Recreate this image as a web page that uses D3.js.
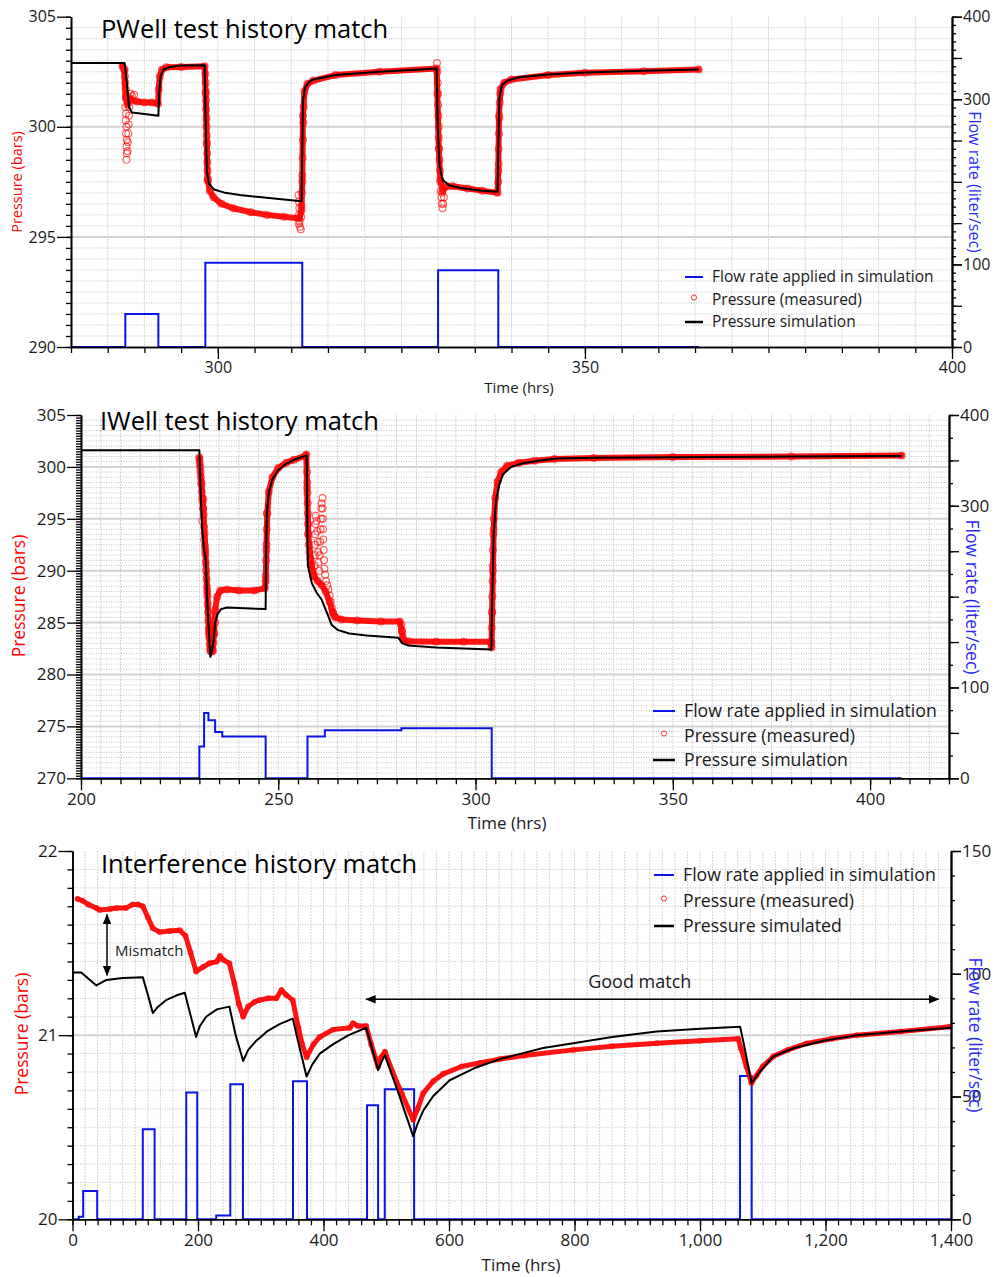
<!DOCTYPE html>
<html>
<head>
<meta charset="utf-8">
<script src="https://cdn.jsdelivr.net/npm/d3@7"></script>
<style>
  body { margin: 0; background: #fff; }
  svg { display: block; }
</style>
</head>
<body>
<script>
// ---------- PWell test (time hrs, pressure bars / flow l/s) ----------
const pwellSim = [
  [280, 302.9], [287.3, 302.9], [287.6, 302.0], [287.9, 300.9], [288.3, 300.65], [290, 300.58],
  [291.9, 300.5], [292.0, 301.5], [292.2, 302.3], [292.6, 302.6], [293.5, 302.72], [295, 302.78],
  [298.2, 302.8], [298.35, 300], [298.5, 298.0], [298.8, 297.4], [299.5, 297.15], [301, 297.0],
  [303, 296.9], [306, 296.8], [309, 296.7], [311.4, 296.62], [311.5, 299], [311.6, 301.2],
  [311.9, 301.8], [312.5, 302.05], [313, 302.15], [316, 302.35], [322, 302.5], [329.8, 302.65],
  [329.95, 300], [330.2, 298.2], [330.6, 297.6], [331.5, 297.35], [333, 297.22], [336, 297.1],
  [338.1, 297.05], [338.2, 299], [338.35, 301.3], [338.7, 301.9], [339.5, 302.1], [341, 302.25],
  [345, 302.38], [350, 302.47], [358, 302.54], [365.5, 302.6]
];
const pwellMeasured = [
  [287.0, 302.75], [287.25, 302.6], [287.45, 301.3], [287.7, 301.0], [288.0, 301.3], [288.4, 301.2],
  [289, 301.15], [290, 301.1], [291, 301.1], [291.85, 301.05], [291.95, 301.7], [292.1, 302.3],
  [292.4, 302.6], [293, 302.7], [295, 302.72], [298.2, 302.75], [298.35, 301.5], [298.5, 299.3],
  [298.6, 297.6], [298.9, 297.1], [299.4, 296.8], [300.5, 296.5], [302.1, 296.3], [304.5, 296.12],
  [306.7, 296.0], [309, 295.92], [311.1, 295.84], [311.4, 296.2], [311.5, 297.5], [311.6, 300.5],
  [311.8, 301.6], [312.2, 301.95], [313, 302.1], [316, 302.35], [322, 302.5], [329.8, 302.65],
  [329.9, 301.5], [330.1, 299], [330.3, 297.6], [330.6, 297.1], [331.2, 297.3], [332, 297.3],
  [334, 297.2], [336, 297.1], [338.1, 297.0], [338.2, 298], [338.3, 300.5], [338.5, 301.7],
  [339, 302.0], [340, 302.15], [345, 302.35], [350, 302.45], [358, 302.52], [365.5, 302.6]
];
const pwellMeasuredScatter = [
  [287.3, 302.6], [287.35, 302.3], [287.4, 302.0], [287.45, 301.7], [287.5, 301.4], [287.4, 300.9],
  [287.5, 300.6], [287.45, 300.3], [287.55, 300.0], [287.5, 299.7], [287.6, 299.4], [287.55, 299.1],
  [287.6, 298.8], [287.55, 298.5], [287.7, 298.9], [287.75, 299.3], [287.8, 299.7], [287.85, 300.1],
  [287.9, 300.5], [287.95, 300.9], [288.1, 301.5], [288.3, 301.4], [288.6, 301.45],
  [298.3, 302.4], [298.35, 302.0], [298.35, 301.6], [298.4, 301.2], [298.4, 300.8], [298.45, 300.4],
  [298.45, 300.0], [298.5, 299.6], [298.5, 299.2], [298.55, 298.8], [298.55, 298.4], [298.6, 298.0],
  [298.65, 297.6],
  [311.0, 296.9], [311.05, 296.6], [311.1, 296.3], [311.05, 296.0], [311.15, 295.7], [311.2, 295.45],
  [311.3, 295.35], [311.0, 295.6], [311.35, 295.9], [311.4, 296.4], [311.45, 297.0], [311.5, 297.8],
  [311.55, 298.6], [311.6, 299.4], [311.65, 300.2], [311.7, 300.9],
  [329.85, 302.9], [329.9, 302.5], [329.95, 302.0], [330.0, 301.5], [330.0, 301.0], [330.05, 300.5],
  [330.1, 300.0], [330.1, 299.5], [330.15, 299.0], [330.2, 298.5], [330.25, 298.0], [330.3, 297.5],
  [330.35, 297.1], [330.45, 296.8], [330.5, 296.5], [330.6, 296.3], [330.7, 296.5], [330.8, 296.8],
  [330.55, 297.0],
  [338.2, 297.5], [338.25, 298.3], [338.25, 299.0], [338.3, 299.7], [338.35, 300.4], [338.4, 301.1],
  [338.45, 301.5]
];
const pwellFlow = [
  [280, 0], [287.4, 40], [291.9, 0], [298.3, 102], [311.5, 0], [330, 93], [338.2, 0], [365.5, 0]
];
const pwellTimeTicks = [300, 350, 400];
const pwellPressureTicks = [290, 295, 300, 305];
const pwellFlowTicks = [0, 100, 300, 400];

// ---------- IWell test ----------
const iwellSim = [
  [200, 301.6], [230.0, 301.6], [230.3, 298], [230.7, 294], [231.2, 292], [231.6, 291.2],
  [232.0, 287], [232.5, 283.5], [232.8, 281.7], [233.2, 282.3], [233.6, 283.2], [234.0, 285.0],
  [234.6, 285.8], [235.5, 286.3], [237, 286.45], [240, 286.4], [246.8, 286.3], [246.9, 291],
  [247.1, 295.5], [247.6, 297.5], [248.5, 298.8], [250, 299.7], [252, 300.3], [254, 300.7],
  [257.2, 301.1], [257.35, 295], [257.5, 290.5], [258.5, 288.8], [259.7, 287.9], [261, 287.2],
  [262.5, 285.8], [263.5, 284.8], [265, 284.3], [268, 283.95], [272.4, 283.75], [276, 283.65],
  [280.4, 283.55], [281.5, 283.0], [283, 282.8], [290, 282.6], [297, 282.5], [304.0, 282.4],
  [304.2, 287], [304.6, 293.5], [305.2, 296.8], [306, 298.3], [307, 299.3], [309, 300.0],
  [312, 300.35], [316, 300.6], [320.5, 300.8], [330, 300.88], [350, 300.93], [380, 301.0],
  [408, 301.05]
];
const iwellMeasured = [
  [230.0, 300.8], [230.5, 298.5], [231.0, 296], [231.5, 292], [232.0, 288], [232.4, 284],
  [232.8, 282.3], [233.3, 282.3], [233.7, 283.8], [234.0, 286.2], [234.5, 287.5], [235.3, 288.1],
  [237, 288.2], [240, 288.1], [244, 288.1], [246.6, 288.3], [246.8, 289], [247.0, 292],
  [247.2, 295.5], [247.6, 297.6], [248.5, 299.0], [250, 299.9], [252, 300.4], [254, 300.7],
  [256.8, 301.05], [257.1, 301.2], [257.3, 298], [257.6, 293.5], [258.2, 291], [259, 289.5],
  [260, 289], [261, 288.6], [262, 288], [263, 287], [263.8, 286], [264.5, 285.5], [266, 285.3],
  [270, 285.2], [276, 285.1], [280.8, 285.1], [281.3, 284.2], [281.7, 283.3], [283, 283.2],
  [290, 283.15], [297, 283.15], [303.9, 283.15], [304.05, 282.6], [304.2, 286], [304.4, 290],
  [304.6, 294], [305.0, 297], [305.6, 298.6], [306.5, 299.5], [308, 300.1], [311, 300.4],
  [315, 300.6], [320, 300.75], [330, 300.85], [350, 300.95], [380, 301.0], [408, 301.1]
];
const iwellMeasuredScatter = [
  [230.0, 300.9], [230.1, 300.4], [230.2, 300.0], [230.3, 299.5], [230.4, 299.0], [230.5, 298.3],
  [230.6, 297.6], [230.7, 297.0], [230.8, 296.6], [230.9, 296.0], [231.0, 296.9], [231.1, 295.4],
  [230.7, 294.8], [231.2, 294.2], [231.3, 293.6], [231.2, 293.0], [231.4, 292.4], [231.5, 291.6],
  [231.6, 290.8], [231.7, 290.0], [231.8, 289.2], [231.9, 288.4], [232.0, 287.6], [232.1, 286.8],
  [232.2, 286.0], [232.3, 285.2], [232.4, 284.4], [232.5, 283.6], [232.6, 282.9], [232.8, 282.4],
  [233.0, 282.2], [233.2, 282.5], [233.4, 282.3], [233.6, 283.0], [233.8, 284.0], [234.0, 285.0],
  [246.8, 289.5], [246.9, 291.0], [247.0, 292.5], [247.05, 294.0], [247.1, 295.5],
  [257.3, 299.5], [257.35, 298.5], [257.4, 297.5], [257.45, 296.5], [257.5, 295.5], [257.55, 294.5],
  [257.6, 293.5], [257.7, 292.5], [257.9, 291.8], [258.1, 291.2], [258.3, 290.6], [258.6, 290.0],
  [258.9, 289.5], [259.2, 290.5], [259.3, 291.5], [259.35, 292.5], [259.4, 293.5], [259.45, 294.5],
  [259.5, 295.3], [259.7, 294.8], [259.9, 293.8], [260.0, 292.8], [260.1, 291.8], [260.2, 290.8],
  [260.4, 290.0], [260.5, 291.5], [260.6, 292.8], [260.7, 294.0], [260.8, 295.0], [260.9, 296.0],
  [261.0, 296.5], [261.2, 297.0], [261.25, 296.0], [261.3, 295.0], [261.35, 294.0], [261.4, 293.0],
  [261.5, 292.0], [261.6, 291.0], [261.7, 290.2], [261.9, 289.6], [262.1, 289.0], [262.4, 288.6],
  [262.7, 288.2], [263.0, 287.6], [263.3, 287.0], [263.6, 286.4], [263.9, 285.9], [264.2, 285.6],
  [281.2, 284.8], [281.4, 284.2], [281.6, 283.6],
  [304.0, 283.0], [304.1, 284.5], [304.2, 286.0], [304.25, 287.5], [304.3, 289.0], [304.35, 290.5],
  [304.4, 292.0], [304.5, 293.5], [304.6, 295.0]
];
const iwellFlow = [
  [200, 0], [230.0, 35], [231.2, 72], [232.3, 64], [234.0, 51], [235.8, 46], [246.8, 0],
  [257.4, 46], [261.8, 53], [281.2, 55], [304.1, 0], [408, 0]
];
const iwellTimeTicks = [200, 250, 300, 350, 400];
const iwellPressureTicks = [270, 275, 280, 285, 290, 295, 300, 305];
const iwellFlowTicks = [0, 100, 300, 400];

// ---------- Interference test ----------
const interfSim = [
  [0, 21.34], [14, 21.34], [38, 21.27], [54, 21.30], [80, 21.31], [112, 21.315], [120, 21.22],
  [128, 21.12], [135, 21.15], [149, 21.19], [165, 21.215], [179, 21.23], [188, 21.11], [197, 20.99],
  [203, 21.05], [213, 21.10], [230, 21.14], [250, 21.155], [260, 21.0], [272, 20.86], [280, 20.92],
  [293, 20.97], [310, 21.02], [330, 21.06], [351, 21.09], [362, 20.93], [373, 20.775], [382, 20.84],
  [394, 20.90], [415, 20.95], [440, 21.0], [468, 21.04], [478, 20.92], [487, 20.81], [493, 20.86],
  [498, 20.89], [520, 20.68], [543, 20.45], [550, 20.52], [559, 20.59], [575, 20.67], [601, 20.755],
  [640, 20.82], [681, 20.87], [750, 20.93], [798, 20.956], [860, 20.99], [931, 21.02], [1000, 21.035],
  [1064, 21.045], [1070, 20.95], [1082, 20.74], [1095, 20.8], [1117, 20.885], [1150, 20.93],
  [1197, 20.97], [1250, 21.0], [1320, 21.02], [1400, 21.04]
];
const interfMeasured = [
  [8, 21.74], [16, 21.73], [25, 21.71], [38, 21.69], [43, 21.68], [60, 21.685], [70, 21.69],
  [85, 21.69], [96, 21.71], [104, 21.71], [112, 21.70], [120, 21.64], [128, 21.58], [139, 21.56],
  [155, 21.565], [171, 21.57], [180, 21.54], [188, 21.45], [197, 21.345], [208, 21.37], [218, 21.39],
  [230, 21.40], [235, 21.43], [240, 21.41], [250, 21.39], [258, 21.28], [265, 21.17], [272, 21.10],
  [280, 21.155], [290, 21.18], [298, 21.19], [312, 21.20], [325, 21.20], [333, 21.245], [340, 21.22],
  [351, 21.19], [360, 21.04], [366, 20.95], [373, 20.88], [384, 20.95], [394, 20.99], [415, 21.03],
  [442, 21.04], [447, 21.065], [455, 21.05], [468, 21.05], [476, 20.95], [487, 20.83], [492, 20.88],
  [498, 20.91], [510, 20.80], [525, 20.68], [543, 20.54], [550, 20.60], [559, 20.685], [575, 20.75],
  [591, 20.79], [620, 20.83], [650, 20.85], [681, 20.87], [720, 20.89], [798, 20.92], [860, 20.94],
  [931, 20.956], [1000, 20.97], [1061, 20.98], [1065, 20.93], [1074, 20.83], [1082, 20.74],
  [1090, 20.78], [1100, 20.83], [1117, 20.885], [1140, 20.92], [1170, 20.955], [1210, 20.98],
  [1250, 21.0], [1320, 21.02], [1398, 21.046]
];
const interfFlow = [
  [0, 0], [10, 1], [17, 11.5], [39.4, 0], [112, 36.7], [130.8, 0], [181.3, 51.6], [198.8, 0],
  [229, 1.5], [251.5, 55], [271.6, 0], [351.4, 56.2], [373.7, 0], [469.4, 46.4], [487, 0],
  [497.6, 53], [544.4, 0], [1063.8, 58.4], [1082.4, 0], [1400, 0]
];
const interfTimeTicks = [0, 200, 400, 600, 800, 1000, 1200, 1400];
const interfPressureTicks = [20, 21, 22];
const interfFlowTicks = [0, 50, 100, 150];

const FONT = "'Open Sans', 'Noto Sans', sans-serif";
const RED = "#ff0000", BLUE = "#0a14e6", INK = "#1a1a1a";

const svg = d3.select("body").append("svg").attr("width", 995).attr("height", 1277);

const steps = (a, b, s) =>
  d3.range(Math.round((b - a) / s) + 1).map(i => +(a + i * s).toFixed(6));

function styleAxis(sel, size) {
  sel.select(".domain").attr("stroke", "#000").attr("stroke-width", 1.6);
  sel.selectAll(".tick line").attr("stroke", "#000").attr("stroke-width", 1.3);
  sel.selectAll(".tick text").attr("fill", INK).attr("font-family", FONT).attr("font-size", size);
}

function drawPanel(c) {
  const g = svg.append("g");
  const x = d3.scaleLinear().domain(c.xDomain).range([c.left, c.right]);
  const y = d3.scaleLinear().domain(c.yDomain).range([c.bottom, c.top]);
  const q = d3.scaleLinear().domain(c.qDomain).range([c.bottom, c.top]);

  // grid
  const grid = g.append("g");
  grid.selectAll("line.v")
    .data(steps(c.xDomain[0], c.xDomain[1], c.xGrid).filter(v => v > c.xDomain[0] && v < c.xDomain[1]))
    .join("line").attr("class", "v")
    .attr("x1", d => x(d)).attr("x2", d => x(d)).attr("y1", c.top).attr("y2", c.bottom)
    .attr("stroke", "#d6d6d6").attr("stroke-width", 1).attr("stroke-dasharray", "2,1");
  grid.selectAll("line.hm")
    .data(steps(c.yDomain[0], c.yDomain[1], c.yGrid)
      .filter(v => v > c.yDomain[0] && !c.yTicks.includes(v)))
    .join("line").attr("class", "hm")
    .attr("x1", c.left).attr("x2", c.right).attr("y1", d => y(d)).attr("y2", d => y(d))
    .attr("stroke", "#c4c4c4").attr("stroke-width", 1).attr("stroke-dasharray", "1,1.5");
  grid.selectAll("line.hM")
    .data(c.yTicks.filter(v => v > c.yDomain[0] && v < c.yDomain[1]))
    .join("line").attr("class", "hM")
    .attr("x1", c.left).attr("x2", c.right).attr("y1", d => y(d)).attr("y2", d => y(d))
    .attr("stroke", "#d2d2d2").attr("stroke-width", 2);

  // flow rate
  const flowLine = d3.line().x(d => x(d[0])).y(d => q(d[1])).curve(d3.curveStepAfter);
  g.append("path").datum(c.flow).attr("d", flowLine)
    .attr("fill", "none").attr("stroke", BLUE).attr("stroke-width", 2);

  // measured pressure
  const pLine = d3.line().x(d => x(d[0])).y(d => y(d[1]));
  g.append("path").datum(c.measured).attr("d", pLine)
    .attr("fill", "none").attr("stroke", RED).attr("stroke-width", c.band)
    .attr("stroke-linejoin", "round").attr("stroke-linecap", "round").attr("opacity", 0.92);
  g.append("g").selectAll("circle")
    .data(c.measured.concat(c.scatter))
    .join("circle")
    .attr("cx", d => x(d[0])).attr("cy", d => y(d[1])).attr("r", c.dot)
    .attr("fill", "none").attr("stroke", RED).attr("stroke-width", 1.2).attr("opacity", 0.6);

  // simulated pressure
  g.append("path").datum(c.sim).attr("d", pLine)
    .attr("fill", "none").attr("stroke", "#000").attr("stroke-width", 2)
    .attr("stroke-linejoin", "round");

  // axes
  const yMinor = g.append("g").attr("transform", `translate(${c.left},0)`)
    .call(d3.axisLeft(y).tickValues(steps(c.yDomain[0], c.yDomain[1], c.yMinor)).tickSize(5).tickFormat("").tickSizeOuter(0));
  styleAxis(yMinor, c.tickFont);
  const yAxis = g.append("g").attr("transform", `translate(${c.left},0)`)
    .call(d3.axisLeft(y).tickValues(c.yTicks).tickSize(14).tickPadding(1)
      .tickFormat(d3.format("d")).tickSizeOuter(0));
  styleAxis(yAxis, c.tickFont);

  const xMinor = g.append("g").attr("transform", `translate(0,${c.bottom})`)
    .call(d3.axisBottom(x).tickValues(steps(c.xDomain[0], c.xDomain[1], c.xMinor)).tickSize(6).tickFormat("").tickSizeOuter(0));
  styleAxis(xMinor, c.tickFont);
  const xAxis = g.append("g").attr("transform", `translate(0,${c.bottom})`)
    .call(d3.axisBottom(x).tickValues(c.xTicks).tickSize(12).tickPadding(3).tickFormat(d3.format(",")).tickSizeOuter(0));
  styleAxis(xAxis, c.tickFont);

  const qMinor = g.append("g").attr("transform", `translate(${c.right},0)`)
    .call(d3.axisRight(q).tickValues(steps(c.qDomain[0], c.qDomain[1], c.qMinor)).tickSize(4).tickFormat("").tickSizeOuter(0));
  styleAxis(qMinor, c.tickFont);
  const qMid = g.append("g").attr("transform", `translate(${c.right},0)`)
    .call(d3.axisRight(q).tickValues(steps(c.qDomain[0], c.qDomain[1], c.qMid)).tickSize(10).tickFormat("").tickSizeOuter(0));
  styleAxis(qMid, c.tickFont);
  const qAxis = g.append("g").attr("transform", `translate(${c.right},0)`)
    .call(d3.axisRight(q).tickValues(c.qTicks).tickSize(10).tickPadding(1)
      .tickFormat(d3.format("d")).tickSizeOuter(0));
  styleAxis(qAxis, c.tickFont);

  // axis titles
  g.append("text").attr("transform", `translate(${c.pTitle[0]},${c.pTitle[1]}) rotate(-90)`)
    .attr("text-anchor", "middle").attr("dy", "0.35em")
    .attr("font-family", FONT).attr("font-size", c.pTitle[2]).attr("fill", RED)
    .text("Pressure (bars)");
  g.append("text").attr("transform", `translate(${c.qTitle[0]},${c.qTitle[1]}) rotate(90)`)
    .attr("text-anchor", "middle").attr("dy", "0.35em")
    .attr("font-family", FONT).attr("font-size", c.qTitle[2]).attr("fill", "#2a2aff")
    .text("Flow rate (liter/sec)");
  g.append("text").attr("x", c.tTitle[0]).attr("y", c.tTitle[1])
    .attr("text-anchor", "middle")
    .attr("font-family", FONT).attr("font-size", c.tTitle[2]).attr("fill", INK)
    .text("Time (hrs)");

  // chart title
  g.append("text").attr("x", c.title[1]).attr("y", c.title[2])
    .attr("font-family", FONT).attr("font-size", c.title[3]).attr("fill", "#000")
    .text(c.title[0]);

  // legend
  const lg = g.append("g").attr("transform", `translate(${c.legend.x},${c.legend.y})`);
  c.legend.items.forEach((it, i) => {
    const row = lg.append("g").attr("transform", `translate(0,${i * c.legend.gap})`);
    if (it.kind === "line") {
      row.append("line").attr("x1", 0).attr("x2", c.legend.sym).attr("y1", 0).attr("y2", 0)
        .attr("stroke", it.color).attr("stroke-width", it.color === "#000" ? 2.5 : 2);
    } else {
      row.append("circle").attr("cx", c.legend.sym / 2).attr("cy", -2).attr("r", 2.6)
        .attr("fill", "none").attr("stroke", RED).attr("stroke-width", 1).attr("opacity", 0.8);
    }
    row.append("text").attr("x", c.legend.sym + c.legend.pad).attr("y", 0).attr("dy", "0.35em")
      .attr("font-family", FONT).attr("font-size", c.legend.font).attr("fill", INK)
      .text(it.label);
  });

  return { g, x, y, q };
}

drawPanel({
  xDomain: [280, 400], yDomain: [290, 305], qDomain: [0, 400],
  left: 71, right: 952, top: 16.7, bottom: 347,
  xGrid: 5, yGrid: 0.5, yMinor: 0.5, xMinor: 5, qMinor: 10, qMid: 50,
  xTicks: pwellTimeTicks, yTicks: pwellPressureTicks, qTicks: pwellFlowTicks,
  sim: pwellSim, measured: pwellMeasured, scatter: pwellMeasuredScatter, flow: pwellFlow,
  band: 6, dot: 3.4, tickFont: 16,
  pTitle: [17, 182, 14.5], qTitle: [975, 182, 16], tTitle: [519, 393, 15],
  title: ["PWell test history match", 101, 38, 25.5],
  legend: { x: 685, y: 277, gap: 22.5, sym: 18, pad: 9, font: 15.5,
    items: [
      { kind: "line", color: BLUE, label: "Flow rate applied in simulation" },
      { kind: "dot", label: "Pressure (measured)" },
      { kind: "line", color: "#000", label: "Pressure simulation" }
    ] }
});

drawPanel({
  xDomain: [200, 420], yDomain: [270, 305], qDomain: [0, 400],
  left: 81, right: 949, top: 415, bottom: 778.3,
  xGrid: 5, yGrid: 0.5, yMinor: 0.25, xMinor: 5, qMinor: 25, qMid: 50,
  xTicks: iwellTimeTicks, yTicks: iwellPressureTicks, qTicks: iwellFlowTicks,
  sim: iwellSim, measured: iwellMeasured, scatter: iwellMeasuredScatter, flow: iwellFlow,
  band: 6, dot: 3.4, tickFont: 17,
  pTitle: [19, 596, 17.5], qTitle: [972, 597, 17.5], tTitle: [507, 829, 17],
  title: ["IWell test history match", 100, 430, 25.5],
  legend: { x: 653, y: 711, gap: 24.5, sym: 22, pad: 9, font: 17.7,
    items: [
      { kind: "line", color: BLUE, label: "Flow rate applied in simulation" },
      { kind: "dot", label: "Pressure (measured)" },
      { kind: "line", color: "#000", label: "Pressure simulation" }
    ] }
});

const p3 = drawPanel({
  xDomain: [0, 1400], yDomain: [20, 22], qDomain: [0, 150],
  left: 72.5, right: 951, top: 851, bottom: 1219.3,
  xGrid: 20, yGrid: 0.1, yMinor: 0.1, xMinor: 20, qMinor: 10, qMid: 50,
  xTicks: interfTimeTicks, yTicks: interfPressureTicks, qTicks: interfFlowTicks,
  sim: interfSim, measured: interfMeasured, scatter: [], flow: interfFlow,
  band: 5, dot: 2.4, tickFont: 17,
  pTitle: [22, 1034, 17.5], qTitle: [975, 1035, 17.5], tTitle: [521, 1271, 17],
  title: ["Interference history match", 101, 873, 25.5],
  legend: { x: 654, y: 875, gap: 25.5, sym: 20, pad: 9, font: 17.7,
    items: [
      { kind: "line", color: BLUE, label: "Flow rate applied in simulation" },
      { kind: "dot", label: "Pressure (measured)" },
      { kind: "line", color: "#000", label: "Pressure simulated" }
    ] }
});

// annotations on the interference panel
const defs = svg.append("defs");
defs.append("marker").attr("id", "arrow").attr("viewBox", "0 0 10 10")
  .attr("refX", 9).attr("refY", 5).attr("markerWidth", 7).attr("markerHeight", 7)
  .attr("orient", "auto-start-reverse")
  .append("path").attr("d", "M0,1 L10,5 L0,9 Z").attr("fill", "#000");

const mismatch = { t: 55, from: 21.655, to: 21.325 };
p3.g.append("line")
  .attr("x1", p3.x(mismatch.t)).attr("x2", p3.x(mismatch.t))
  .attr("y1", p3.y(mismatch.from)).attr("y2", p3.y(mismatch.to))
  .attr("stroke", "#000").attr("stroke-width", 1.5)
  .attr("marker-start", "url(#arrow)").attr("marker-end", "url(#arrow)");
p3.g.append("text").attr("x", p3.x(mismatch.t) + 8).attr("y", p3.y(21.46))
  .attr("dy", "0.35em").attr("font-family", FONT).attr("font-size", 15).attr("fill", INK)
  .text("Mismatch");

const goodMatch = { from: 468, to: 1380, p: 21.195 };
p3.g.append("line")
  .attr("x1", p3.x(goodMatch.from)).attr("x2", p3.x(goodMatch.to))
  .attr("y1", p3.y(goodMatch.p)).attr("y2", p3.y(goodMatch.p))
  .attr("stroke", "#000").attr("stroke-width", 1.5)
  .attr("marker-start", "url(#arrow)").attr("marker-end", "url(#arrow)");
p3.g.append("text").attr("x", p3.x(904)).attr("y", p3.y(goodMatch.p) - 11)
  .attr("text-anchor", "middle").attr("font-family", FONT).attr("font-size", 18).attr("fill", INK)
  .text("Good match");
</script>
</body>
</html>
